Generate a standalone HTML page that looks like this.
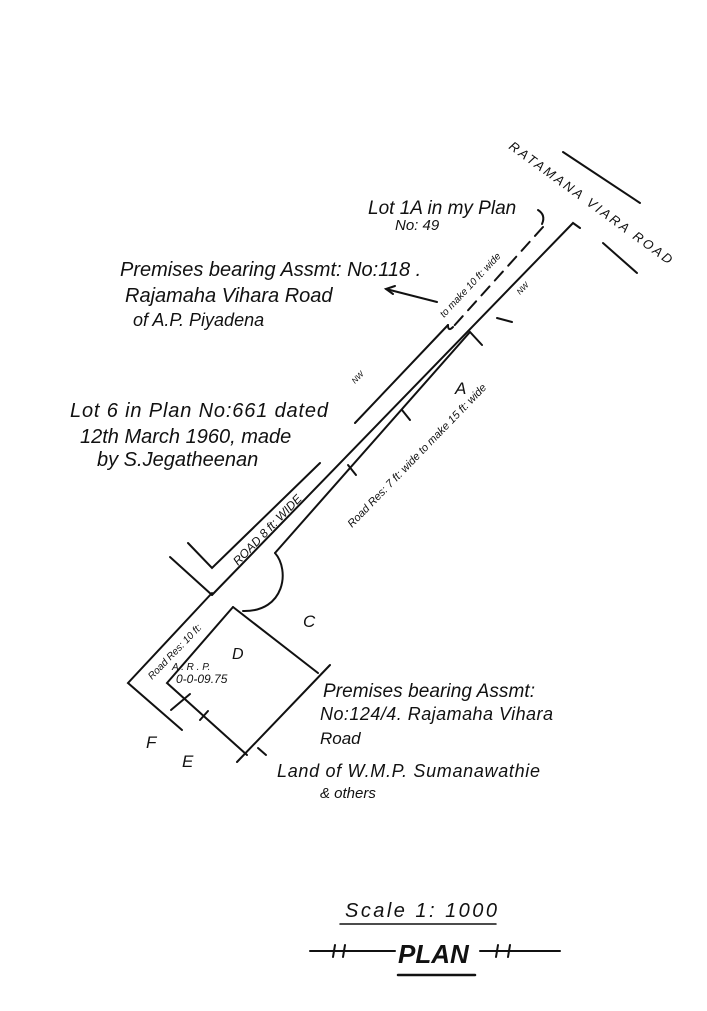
<!DOCTYPE html>
<html><head><meta charset="utf-8"><style>
html,body{margin:0;padding:0;background:#fff;}
svg{display:block}
text{font-family:"Liberation Sans",sans-serif;font-style:italic;fill:#111}
</style></head><body>
<svg width="707" height="1011" viewBox="0 0 707 1011" xmlns="http://www.w3.org/2000/svg">
<rect width="707" height="1011" fill="#fff"/>
<g stroke="#111" stroke-width="2" fill="none" stroke-linecap="round">
<line x1="563" y1="152" x2="640" y2="203"/>
<line x1="603" y1="243" x2="637" y2="273"/>
<polyline points="580,228 573,223 212,595"/>
<line x1="448" y1="325" x2="355" y2="423"/>
<polyline points="320,463 212,568 188,543"/>
<line x1="170" y1="557" x2="212" y2="595"/>
<line x1="543" y1="227" x2="453" y2="327" stroke-dasharray="12,8"/>
<path d="M453,327 q-5,5 -5,-2"/>
<path d="M538,210 q8,5 4,14"/>
<polyline points="482,345 470,332 275,553"/>
<line x1="402" y1="410" x2="410" y2="420"/>
<line x1="348" y1="465" x2="356" y2="475"/>
<path d="M275,553 C290,570 285,612 243,611"/>
<line x1="497" y1="318" x2="512" y2="322"/>
<polyline points="212,593 128,683 182,730"/>
<polyline points="233,607 167,683 247,755"/>
<line x1="233" y1="607" x2="318" y2="673"/>
<line x1="330" y1="665" x2="237" y2="762"/>
<line x1="171" y1="710" x2="190" y2="694"/>
<line x1="200" y1="720" x2="208" y2="711"/>
<line x1="258" y1="748" x2="266" y2="755"/>
<line x1="437" y1="302" x2="386" y2="289"/>
<polyline points="395,286 386,289 393,294"/>
<line x1="340" y1="924" x2="496" y2="924" stroke-width="1.5"/>
<line x1="310" y1="951" x2="395" y2="951"/>
<line x1="480" y1="951" x2="560" y2="951"/>
<line x1="398" y1="975" x2="475" y2="975" stroke-width="2.5"/>
<line x1="335" y1="945" x2="333" y2="957"/>
<line x1="345" y1="945" x2="343" y2="957"/>
<line x1="498" y1="945" x2="496" y2="957"/>
<line x1="510" y1="945" x2="508" y2="957"/>
</g>
<text x="508" y="148" font-size="13" transform="rotate(36 508 148)" letter-spacing="2.5">RATAMANA VIARA ROAD</text>
<text x="368" y="214" font-size="19">Lot 1A in my Plan</text>
<text x="395" y="230" font-size="15">No: 49</text>
<text x="120" y="276" font-size="20">Premises bearing Assmt: No:118 .</text>
<text x="125" y="302" font-size="20">Rajamaha Vihara  Road</text>
<text x="133" y="326" font-size="18">of A.P. Piyadena</text>
<text x="70" y="417" font-size="20" textLength="258">Lot 6 in Plan No:661 dated</text>
<text x="80" y="443" font-size="20">12th March 1960, made</text>
<text x="97" y="466" font-size="20">by S.Jegatheenan</text>
<text x="455" y="394" font-size="17">A</text>
<text x="303" y="627" font-size="17">C</text>
<text x="232" y="659" font-size="16">D</text>
<text x="172" y="670" font-size="10">A . R . P.</text>
<text x="176" y="683" font-size="12">0-0-09.75</text>
<text x="146" y="748" font-size="17">F</text>
<text x="182" y="767" font-size="17">E</text>
<text x="323" y="697" font-size="19" textLength="212">Premises bearing Assmt:</text>
<text x="320" y="720" font-size="18" textLength="233">No:124/4. Rajamaha Vihara</text>
<text x="320" y="744" font-size="17">Road</text>
<text x="277" y="777" font-size="18" textLength="263">Land of W.M.P. Sumanawathie</text>
<text x="320" y="798" font-size="15">&amp; others</text>
<text x="345" y="917" font-size="20" textLength="152">Scale  1: 1000</text>
<text x="398" y="963" font-size="26" font-weight="bold">PLAN</text>
<g font-style="normal">
<text x="444" y="318" transform="rotate(-47 444 318)" font-size="10">to make 10 ft: wide</text>
<text x="352" y="528" transform="rotate(-46 352 528)" font-size="11">Road Res: 7 ft: wide to make 15 ft: wide</text>
<text x="238" y="566" transform="rotate(-46 238 566)" font-size="12">ROAD   8 ft: WIDE</text>
<text x="152" y="680" transform="rotate(-46 152 680)" font-size="10">Road Res: 10 ft:</text>
<text x="355" y="384" transform="rotate(-46 355 384)" font-size="8">NW</text>
<text x="520" y="295" transform="rotate(-46 520 295)" font-size="8">NW</text>
</g>
</svg>
</body></html>
